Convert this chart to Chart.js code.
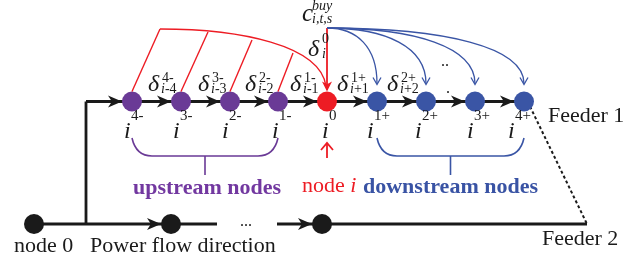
<!DOCTYPE html>
<html>
<head>
<meta charset="utf-8">
<script src="https://cdn.jsdelivr.net/npm/chart.js@4.4.1/dist/chart.umd.min.js"></script>
<style>
  html, body { margin: 0; padding: 0; background: #fff; }
</style>
</head>
<body>
<canvas id="diagram" width="635" height="263"></canvas>
<script>
// Feeder 1 nodes, left to right (upstream -> node i -> downstream)
const nodeSup = ['4-', '3-', '2-', '1-', '0', '1+', '2+', '3+', '4+'];
const nodeX = [132, 181, 230, 278, 327, 377, 426, 475, 524];
const nodeKind = ['up', 'up', 'up', 'up', 'self', 'down', 'down', 'down', 'down'];
const nodeLabelX = [124, 173, 222, 272, 322, 367, 415, 467, 508];

// Feeder 2 nodes
const feeder2X = [34, 171, 322];

// branch variables written between the nodes
const deltaSup = ['4-', '3-', '2-', '1-', '1+', '2+'];
const deltaSub = ['i-4', 'i-3', 'i-2', 'i-1', 'i+1', 'i+2'];
const deltaX = [148, 198, 245, 290, 337, 387];

// points where the red links leave the arc (one per upstream node)
const redTapX = [160, 208, 252, 293];
const redTapY = [29, 32, 40, 53];

const F1_Y = 101.5, F2_Y = 224;
const TRUNK_X = 86;
const SRC = { x: 327, y: 28 };  // c^buy junction

const colors = {
  up: '#6a3a96', self: '#ed1c24', down: '#3a55a5', line: '#1a1a1a',
  upText: '#7238a0', downText: '#3953a4'
};
const SERIF = '"Liberation Serif", "DejaVu Serif", serif';

function seg(x1, y1, x2, y2, color, width, dash) {
  return {
    type: 'line', data: [{ x: x1, y: y1 }, { x: x2, y: y2 }],
    borderColor: color, borderWidth: width, borderDash: dash || [],
    pointRadius: 0, order: 2
  };
}

// ---------- helpers for the overlay plugin ----------
function arrowHead(ctx, tx, ty, angle, len, hw, color) {
  ctx.save();
  ctx.translate(tx, ty);
  ctx.rotate(angle);
  ctx.beginPath();
  ctx.moveTo(0, 0);
  ctx.lineTo(-len, -hw);
  ctx.lineTo(-len * 0.72, 0);
  ctx.lineTo(-len, hw);
  ctx.closePath();
  ctx.fillStyle = color;
  ctx.fill();
  ctx.restore();
}

function chevron(ctx, tx, ty, angle, len, hw, color, w) {
  ctx.save();
  ctx.translate(tx, ty);
  ctx.rotate(angle);
  ctx.beginPath();
  ctx.moveTo(-len, -hw);
  ctx.lineTo(0, 0);
  ctx.lineTo(-len, hw);
  ctx.strokeStyle = color;
  ctx.lineWidth = w;
  ctx.stroke();
  ctx.restore();
}

// letters italic, digits and signs upright
function mixed(ctx, str, x, y, size, color) {
  ctx.fillStyle = color;
  for (const ch of str) {
    const it = /[a-z]/i.test(ch);
    ctx.font = (it ? 'italic ' : '') + size + 'px ' + SERIF;
    ctx.fillText(ch, x, y);
    x += ctx.measureText(ch).width;
  }
  return x;
}

function scripted(ctx, base, bx, by, bsize, sup, supX, supY, sub, subX, subY, ssize, color) {
  ctx.textAlign = 'left';
  ctx.textBaseline = 'alphabetic';
  ctx.fillStyle = color;
  ctx.font = 'italic ' + bsize + 'px ' + SERIF;
  ctx.fillText(base, bx, by);
  if (sup) mixed(ctx, sup, supX, supY, ssize, color);
  if (sub) mixed(ctx, sub, subX, subY, ssize, color);
}

function brace(ctx, X, Y, left, right, top, bottom, tick, color) {
  const l = X(left), r = X(right), t = Y(top), b = Y(bottom), m = (l + r) / 2;
  ctx.beginPath();
  ctx.moveTo(l, t);
  ctx.quadraticCurveTo(l + 4, b, l + 20, b);
  ctx.lineTo(r - 20, b);
  ctx.quadraticCurveTo(r - 4, b, r, t);
  ctx.moveTo(m, b);
  ctx.lineTo(m, Y(tick));
  ctx.strokeStyle = color;
  ctx.lineWidth = 1.6;
  ctx.stroke();
}

const overlay = {
  id: 'overlay',
  afterDatasetsDraw(chart) {
    const ctx = chart.ctx;
    const X = v => chart.scales.x.getPixelForValue(v);
    const Y = v => chart.scales.y.getPixelForValue(v);
    ctx.save();

    // power flow arrowheads in front of each node
    nodeX.forEach(x => arrowHead(ctx, X(x) - 10, Y(F1_Y), 0, 14, 6, colors.line));
    feeder2X.slice(1).forEach(x => arrowHead(ctx, X(x) - 10, Y(F2_Y), 0, 14, 6, colors.line));

    // red arc from the upstream links into node i
    ctx.beginPath();
    ctx.moveTo(X(160), Y(29));
    ctx.bezierCurveTo(X(240), Y(29), X(320), Y(45), X(326), Y(86));
    ctx.strokeStyle = colors.self;
    ctx.lineWidth = 1.4;
    ctx.stroke();
    redTapX.forEach((tx, k) => {
      ctx.beginPath();
      ctx.moveTo(X(tx), Y(redTapY[k]));
      ctx.lineTo(X(nodeX[k]), Y(F1_Y - 10));
      ctx.stroke();
    });
    // vertical red price link
    ctx.beginPath();
    ctx.moveTo(X(SRC.x), Y(SRC.y));
    ctx.lineTo(X(SRC.x), Y(F1_Y - 12));
    ctx.lineWidth = 1.8;
    ctx.stroke();
    arrowHead(ctx, X(SRC.x), Y(F1_Y - 10), Math.PI / 2, 10, 5, colors.self);

    // blue curves to downstream nodes
    ctx.strokeStyle = colors.down;
    ctx.lineWidth = 1.3;
    nodeX.forEach((nx, k) => {
      if (nodeKind[k] !== 'down') return;
      const dx = nx - SRC.x, endY = F1_Y - 19;
      ctx.beginPath();
      ctx.moveTo(X(SRC.x), Y(SRC.y));
      ctx.bezierCurveTo(X(SRC.x + 0.6 * dx), Y(SRC.y), X(nx), Y(SRC.y + 0.35 * (endY - SRC.y)), X(nx), Y(endY + 1));
      ctx.stroke();
      chevron(ctx, X(nx), Y(F1_Y - 17), Math.PI / 2, 7, 4, colors.down, 1.3);
    });

    // braces
    brace(ctx, X, Y, nodeX[0], nodeX[3], 138, 156, 175, colors.up);
    brace(ctx, X, Y, nodeX[5], nodeX[8], 138, 156, 175, colors.down);

    // red arrow pointing at node i
    ctx.beginPath();
    ctx.moveTo(X(327), Y(158));
    ctx.lineTo(X(327), Y(143));
    ctx.strokeStyle = colors.self;
    ctx.lineWidth = 1.8;
    ctx.stroke();
    chevron(ctx, X(327), Y(143), -Math.PI / 2, 7, 6, colors.self, 1.8);

    // ---- text ----
    const black = '#1a1a1a';
    // node labels i^k
    nodeX.forEach((nx, k) => {
      scripted(ctx, 'i', X(nodeLabelX[k]), Y(138), 24, nodeSup[k], X(nodeLabelX[k] + 7), Y(120),
        null, 0, 0, 15, black);
    });
    // branch labels delta
    deltaX.forEach((dx, k) => {
      scripted(ctx, 'δ', X(dx), Y(91), 24, deltaSup[k], X(dx + 14), Y(82),
        deltaSub[k], X(dx + 13), Y(93), 14, black);
    });
    // price and own-node labels
    scripted(ctx, 'c', X(302), Y(21), 25, 'buy', X(312), Y(10), 'i,t,s', X(312), Y(23), 14, black);
    scripted(ctx, 'δ', X(308), Y(56), 24, '0', X(322), Y(43), 'i', X(322), Y(58), 14, black);

    ctx.fillStyle = black;
    ctx.font = '16px ' + SERIF;
    ctx.fillText('..', X(441), Y(66));
    ctx.fillText('.', X(446), Y(93));
    ctx.fillText('...', X(240), Y(226));

    ctx.font = '22px ' + SERIF;
    ctx.fillText('Feeder 1', X(548), Y(122));
    ctx.fillText('Feeder 2', X(542), Y(245));
    ctx.fillText('node 0', X(14), Y(252));
    ctx.fillText('Power flow direction', X(90), Y(252));

    ctx.font = 'bold 22px ' + SERIF;
    ctx.fillStyle = colors.upText;
    ctx.textAlign = 'center';
    ctx.fillText('upstream nodes', X(207), Y(194));
    ctx.textAlign = 'left';
    ctx.fillStyle = colors.downText;
    ctx.fillText('downstream nodes', X(363), Y(193));

    ctx.fillStyle = colors.self;
    ctx.font = '22px ' + SERIF;
    ctx.fillText('node ', X(302), Y(192));
    const w = ctx.measureText('node ').width;
    ctx.font = 'italic 22px ' + SERIF;
    ctx.fillText('i', X(302) + w, Y(192));

    ctx.restore();
  }
};

new Chart(document.getElementById('diagram'), {
  type: 'scatter',
  data: {
    datasets: [
      {
        data: nodeX.map(x => ({ x, y: F1_Y })),
        backgroundColor: nodeKind.map(k => colors[k]),
        borderWidth: 0, pointRadius: 10, order: 0
      },
      {
        data: feeder2X.map(x => ({ x, y: F2_Y })),
        backgroundColor: colors.line, borderWidth: 0, pointRadius: 10, order: 0
      },
      seg(TRUNK_X, F1_Y, nodeX[nodeX.length - 1], F1_Y, colors.line, 2.8),
      seg(TRUNK_X, F1_Y, TRUNK_X, F2_Y, colors.line, 2.8),
      seg(feeder2X[0], F2_Y, 217, F2_Y, colors.line, 2.8),
      seg(277, F2_Y, 587, F2_Y, colors.line, 2.8),
      seg(530, F1_Y + 5, 587, F2_Y, colors.line, 2, [3, 2.5])
    ]
  },
  options: {
    responsive: false,
    animation: false,
    devicePixelRatio: 1,
    layout: { padding: 0, autoPadding: false },
    plugins: { legend: { display: false }, tooltip: { enabled: false } },
    scales: {
      x: { type: 'linear', min: 0, max: 635, display: false },
      y: { type: 'linear', min: 0, max: 263, reverse: true, display: false }
    }
  },
  plugins: [overlay]
});
</script>
</body>
</html>
